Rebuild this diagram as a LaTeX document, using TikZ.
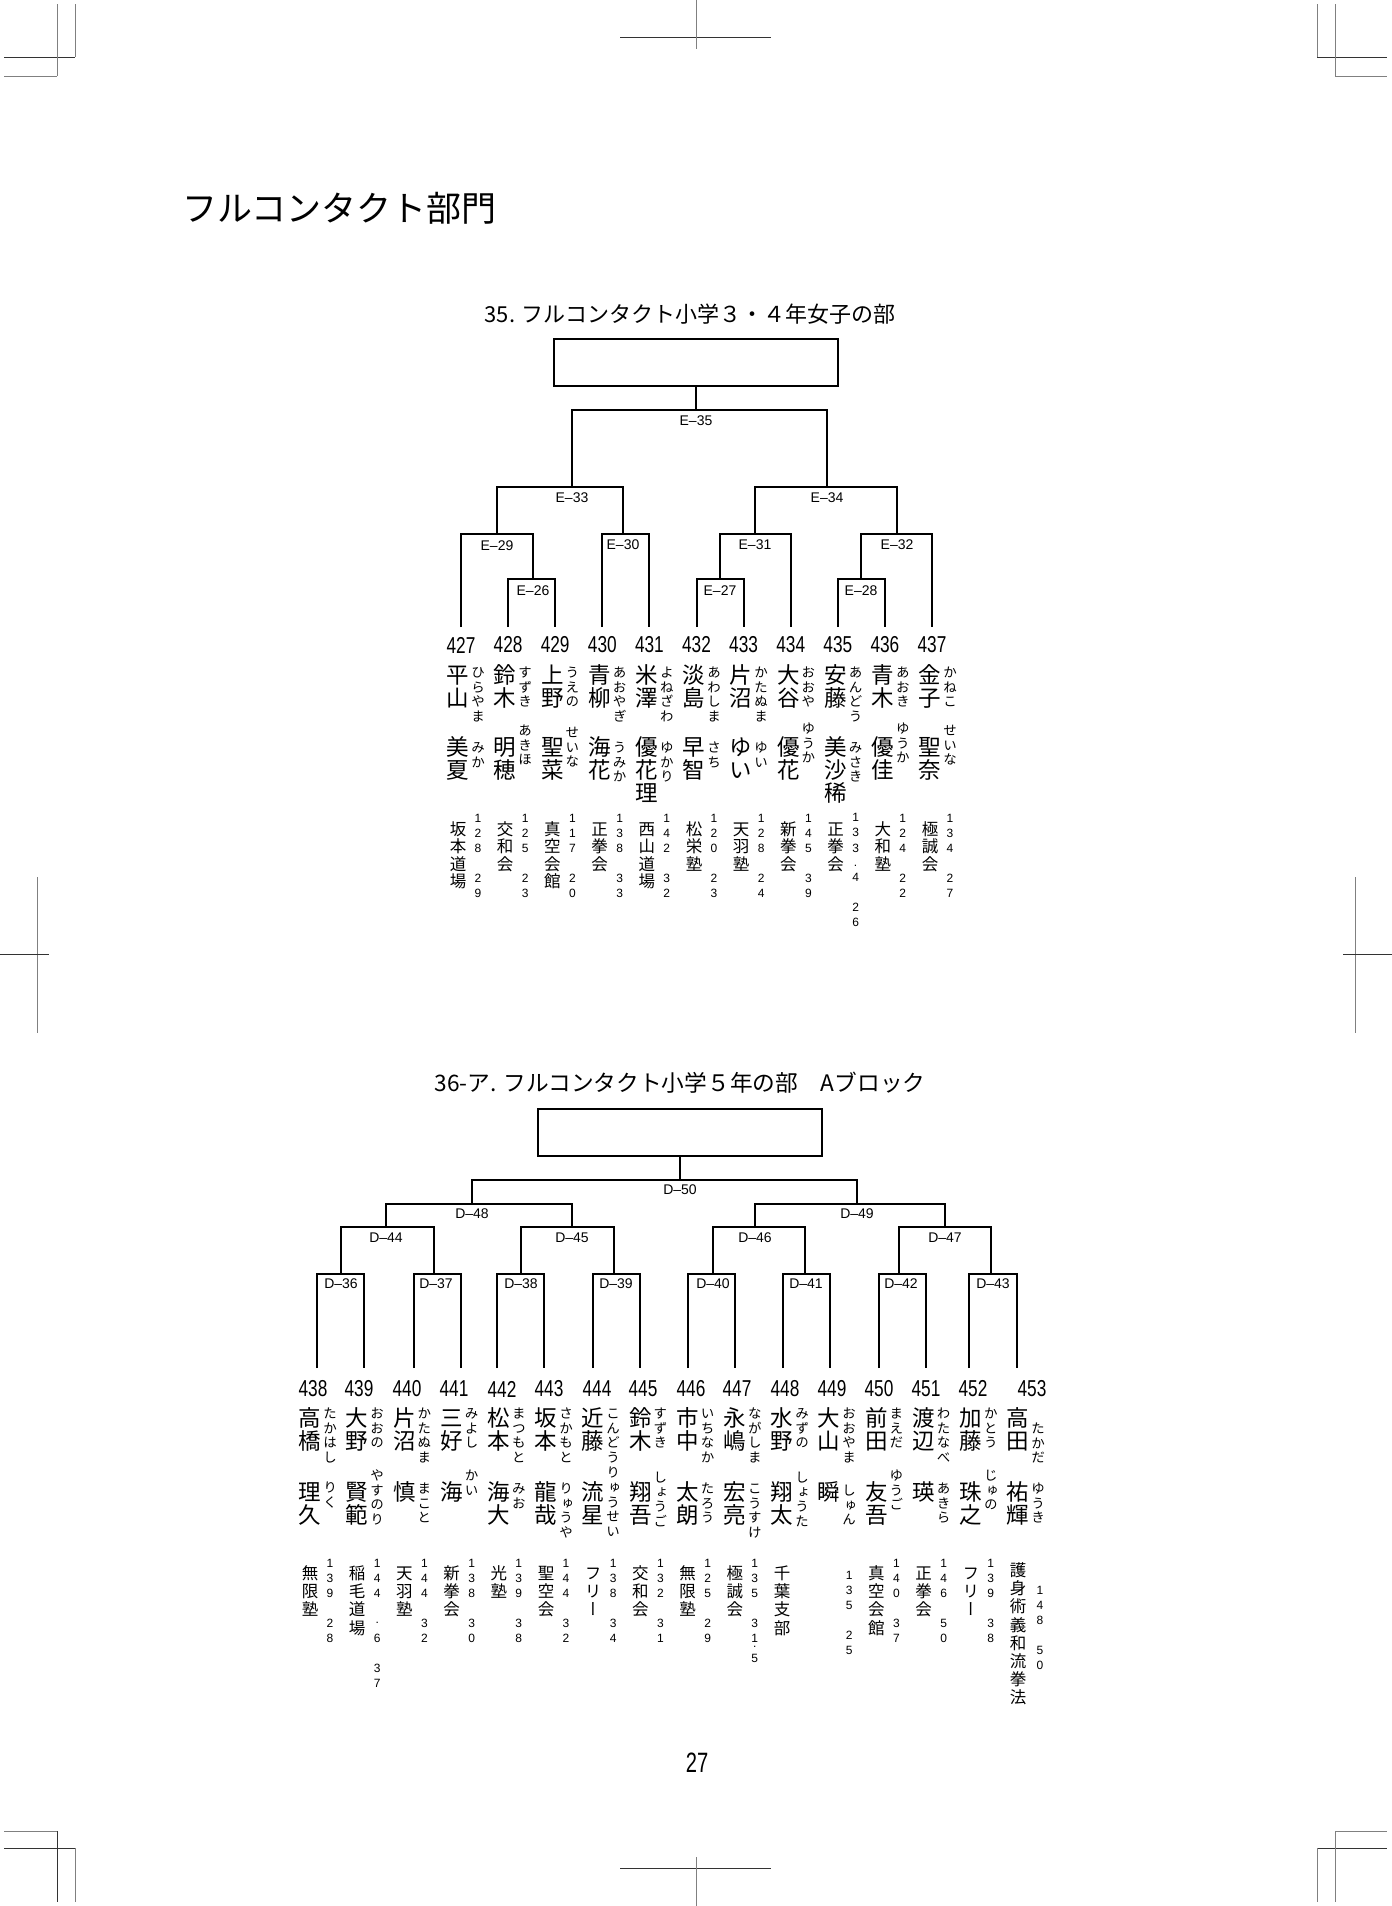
\documentclass[tikz,border=0pt]{standalone}
\usepackage{fontspec}
\usepackage{graphicx}
\setmainfont{Noto Sans CJK JP}
\newfontfamily\jp{Noto Sans CJK JP}
\newfontfamily\vjp[RawFeature={+vert}]{Noto Sans CJK JP}
\newfontfamily\lat{Liberation Sans}
\makeatletter
\def\vs@loop#1{\ifx#1\relax\else\hbox to 1em{\hss\vrule height .88em depth .12em width 0pt\relax#1\hss}\expandafter\vs@loop\fi}
\newcommand\vstk[2]{\vbox{\baselineskip=#1\relax\lineskiplimit=-100pt\relax\lineskip=0pt\relax\vs@loop#2\relax}}
\makeatother
\tikzset{
  br/.style={line width=2pt},
  bx/.style={draw,line width=2pt,minimum width=284pt,minimum height=47pt,inner sep=0},
  kj/.style={inner sep=0,anchor=north,font=\vjp\fontsize{22.5}{23}\selectfont},
  fu/.style={inner sep=0,anchor=north,font=\vjp\fontsize{13.5}{14}\selectfont},
  af/.style={inner sep=0,anchor=north,font=\vjp\fontsize{16.5}{17}\selectfont},
  dg/.style={inner sep=0,font=\lat\fontsize{12}{12}\selectfont},
  num/.style={inner sep=0,font=\lat\fontsize{23}{23}\selectfont},
  mlab/.style={inner sep=0,font=\lat\fontsize{14}{14}\selectfont},
  ttl/.style={inner sep=0,font=\jp\fontsize{22}{22}\selectfont},
  cropd/.style={line width=1pt,black!80},
  cropg/.style={line width=1pt,black!50},
}
\newcommand\pers[8]{%
  \node[kj] (s#1) at (#2,{\ySur-11.25}) {\vstk{23pt}{#3}};
  \node[fu] (fs#1) at ({#2+20},{\yFs-6.75}) {\vstk{14.8pt}{#4}};
  \node[kj] (g#1) at (#2,{\yGiv-11.25}) {\vstk{23pt}{#5}};
  \node[fu] (fg#1) at ({#2+20},{#7-6.75}) {\vstk{14.8pt}{#6}};
  \node[af] (a#1) at (#2,{\yAff-8.25}) {\vstk{\affsk}{#8}};
}
\newcommand\wtd[8]{\foreach \c/\k [count=\i] in {#4/0,#5/1,#6/2,#7/4,#8/5}{\node[dg] (d#1-\i) at (#2,{#3+15*\k}) {\c};}}
\newcommand\digs[3]{\foreach \c/\yy [count=\i] in {#3}{\node[dg] (d#1-\i) at (#2,\yy) {\c};}}
\begin{document}
\begin{tikzpicture}[x=1pt,y=-1pt]
\fill[white] (0,0) rectangle (1392,1906);
\useasboundingbox (0,0) rectangle (1392,1906);
% crop marks
\draw[cropd] (4,57) -- (75,57); \draw[cropg] (4,76) -- (57,76);
\draw[cropg] (57,4) -- (57,76); \draw[cropg] (75,4) -- (75,57);
\draw[cropd] (620,37) -- (771,37); \draw[cropg] (696,0) -- (696,49);
\draw[cropd] (1317,57) -- (1387,57); \draw[cropg] (1335,76) -- (1387,76);
\draw[cropg] (1317,4) -- (1317,57); \draw[cropg] (1335,4) -- (1335,76);
\draw[cropg] (37,877) -- (37,1033); \draw[cropd] (0,954) -- (49,954);
\draw[cropg] (1355,877) -- (1355,1033); \draw[cropd] (1343,954) -- (1392,954);
\draw[cropg] (4,1831) -- (57,1831); \draw[cropd] (4,1848) -- (75,1848);
\draw[cropd] (57,1831) -- (57,1902); \draw[cropg] (75,1848) -- (75,1902);
\draw[cropd] (620,1868) -- (771,1868); \draw[cropg] (696,1857) -- (696,1906);
\draw[cropg] (1335,1831) -- (1387,1831); \draw[cropd] (1317,1848) -- (1387,1848);
\draw[cropg] (1317,1848) -- (1317,1902); \draw[cropg] (1335,1831) -- (1335,1902);
% headings
\node[inner sep=0,anchor=west,font=\jp\fontsize{35}{35}\selectfont] (head) at (182,208) {フルコンタクト部門};
\node[ttl] (t35) at (690,314) {35. フルコンタクト小学３・４年女子の部};
\node[ttl,font=\jp\fontsize{22.7}{23}\selectfont] (t36) at (680,1083) {36-ア. フルコンタクト小学５年の部　Aブロック};
\node[inner sep=0,font=\lat\fontsize{28}{28}\selectfont] (pg) at (697,1763) {\scalebox{.72}[1]{27}};
% ===== bracket 35 =====
\node[bx] (bx1) at (696,362.5) {};
\coordinate (E35) at (696,410);
\coordinate (E33) at (572,487); \coordinate (E34) at (827,487);
\coordinate (E29) at (497,534); \coordinate (E30) at (623,534);
\coordinate (E31) at (755,534); \coordinate (E32) at (897,534);
\coordinate (E26) at (533,579); \coordinate (E27) at (720,579); \coordinate (E28) at (861,579);
\foreach \n/\xx in {427/461,428/508.1,429/555.2,430/602.3,431/649.4,432/696.5,433/743.6,434/790.7,435/837.8,436/884.9,437/932}{
  \coordinate (l\n) at (\xx,627);
  \node[num] (n\n) at (\xx,645) {\scalebox{.75}[1]{\n}};
}
\draw[br] (bx1.south) -- (E35);
\draw[br] (E33) |- (E35) -| (E34);
\draw[br] (E29) |- (E33) -| (E30);
\draw[br] (E31) |- (E34) -| (E32);
\draw[br] (l427) |- (E29) -| (E26);
\draw[br] (l428) |- (E26) -| (l429);
\draw[br] (l430) |- (E30) -| (l431);
\draw[br] (E27) |- (E31) -| (l434);
\draw[br] (l432) |- (E27) -| (l433);
\draw[br] (E28) |- (E32) -| (l437);
\draw[br] (l435) |- (E28) -| (l436);
\node[mlab] (tE35) at (696,421) {E–35};
\node[mlab] (tE33) at (572,498) {E–33};
\node[mlab] (tE34) at (827,498) {E–34};
\node[mlab] (tE29) at (497,546) {E–29};
\node[mlab] (tE30) at (623,545) {E–30};
\node[mlab] (tE31) at (755,545) {E–31};
\node[mlab] (tE32) at (897,545) {E–32};
\node[mlab] (tE26) at (533,591) {E–26};
\node[mlab] (tE27) at (720,591) {E–27};
\node[mlab] (tE28) at (861,591) {E–28};
\def\ySur{675}\def\yFs{672}\def\yGiv{747}\def\yAff{829}\def\affsk{17.3pt}
\pers{427}{458}{平山}{ひらやま}{美夏}{みか}{747}{坂本道場}
\pers{428}{505.2}{鈴木}{すずき}{明穂}{あきほ}{730}{交和会}
\pers{429}{552.4}{上野}{うえの}{聖菜}{せいな}{732}{真空会館}
\pers{430}{599.6}{青柳}{あおやぎ}{海花}{うみか}{747}{正拳会}
\pers{431}{646.8}{米澤}{よねざわ}{優花理}{ゆかり}{747}{西山道場}
\pers{432}{694}{淡島}{あわしま}{早智}{さち}{747}{松栄塾}
\pers{433}{741.2}{片沼}{かたぬま}{ゆい}{ゆい}{747}{天羽塾}
\pers{434}{788.4}{大谷}{おおや}{優花}{ゆうか}{728}{新拳会}
\pers{435}{835.6}{安藤}{あんどう}{美沙稀}{みさき}{747}{正拳会}
\pers{436}{882.8}{青木}{あおき}{優佳}{ゆうか}{728}{大和塾}
\pers{437}{930}{金子}{かねこ}{聖奈}{せいな}{730}{極誠会}
\wtd{427}{478}{818}{1}{2}{8}{2}{9}
\wtd{428}{525.2}{818}{1}{2}{5}{2}{3}
\wtd{429}{572.4}{818}{1}{1}{7}{2}{0}
\wtd{430}{619.6}{818}{1}{3}{8}{3}{3}
\wtd{431}{666.8}{818}{1}{4}{2}{3}{2}
\wtd{432}{714}{818}{1}{2}{0}{2}{3}
\wtd{433}{761.2}{818}{1}{2}{8}{2}{4}
\wtd{434}{808.4}{818}{1}{4}{5}{3}{9}
\digs{435}{855.6}{1/817,3/832,3/848,./866,4/877,2/907,6/922}
\wtd{436}{902.8}{818}{1}{2}{4}{2}{2}
\wtd{437}{950}{818}{1}{3}{4}{2}{7}
% ===== bracket 36 =====
\node[bx] (bx2) at (680,1132.5) {};
\coordinate (D50) at (680,1180);
\coordinate (D48) at (472,1204); \coordinate (D49) at (857,1204);
\coordinate (D44) at (386,1227); \coordinate (D45) at (572,1227);
\coordinate (D46) at (755,1227); \coordinate (D47) at (945,1227);
\coordinate (D36) at (341,1274); \coordinate (D37) at (434,1274);
\coordinate (D38) at (521,1274); \coordinate (D39) at (614,1274);
\coordinate (D40) at (713,1274); \coordinate (D41) at (805,1274);
\coordinate (D42) at (899,1274); \coordinate (D43) at (991,1274);
\foreach \n/\xx in {438/317,439/364,440/414,441/461,442/497,443/544,444/593,445/640,446/688,447/735,448/783,449/830,450/879,451/926,452/969,453/1017}{
  \coordinate (l\n) at (\xx,1368);
}
\foreach \n/\xx in {438/313,439/359,440/407,441/454,442/502,443/549,444/597,445/643,446/691,447/737,448/785,449/832,450/879,451/926,452/973,453/1032}{
  \node[num] (n\n) at (\xx,1389) {\scalebox{.75}[1]{\n}};
}
\draw[br] (bx2.south) -- (D50);
\draw[br] (D48) |- (D50) -| (D49);
\draw[br] (D44) |- (D48) -| (D45);
\draw[br] (D46) |- (D49) -| (D47);
\draw[br] (D36) |- (D44) -| (D37);
\draw[br] (D38) |- (D45) -| (D39);
\draw[br] (D40) |- (D46) -| (D41);
\draw[br] (D42) |- (D47) -| (D43);
\draw[br] (l438) |- (D36) -| (l439);
\draw[br] (l440) |- (D37) -| (l441);
\draw[br] (l442) |- (D38) -| (l443);
\draw[br] (l444) |- (D39) -| (l445);
\draw[br] (l446) |- (D40) -| (l447);
\draw[br] (l448) |- (D41) -| (l449);
\draw[br] (l450) |- (D42) -| (l451);
\draw[br] (l452) |- (D43) -| (l453);
\node[mlab] (tD50) at (680,1190) {D–50};
\node[mlab] (tD48) at (472,1214) {D–48};
\node[mlab] (tD49) at (857,1214) {D–49};
\node[mlab] (tD44) at (386,1238) {D–44};
\node[mlab] (tD45) at (572,1238) {D–45};
\node[mlab] (tD46) at (755,1238) {D–46};
\node[mlab] (tD47) at (945,1238) {D–47};
\node[mlab] (tD36) at (341,1284) {D–36};
\node[mlab] (tD37) at (436,1284) {D–37};
\node[mlab] (tD38) at (521,1284) {D–38};
\node[mlab] (tD39) at (616,1284) {D–39};
\node[mlab] (tD40) at (713,1284) {D–40};
\node[mlab] (tD41) at (806,1284) {D–41};
\node[mlab] (tD42) at (901,1284) {D–42};
\node[mlab] (tD43) at (993,1284) {D–43};
\def\ySur{1418}\def\yFs{1413}\def\yGiv{1492}\def\yAff{1573}\def\affsk{18.2pt}
\pers{438}{310}{高橋}{たかはし}{理久}{りく}{1487}{無限塾}
\pers{439}{357.2}{大野}{おおの}{賢範}{やすのり}{1475}{稲毛道場}
\pers{440}{404.4}{片沼}{かたぬま}{慎}{まこと}{1488}{天羽塾}
\pers{441}{451.6}{三好}{みよし}{海}{かい}{1475}{新拳会}
\pers{442}{498.8}{松本}{まつもと}{海大}{みお}{1488}{光塾}
\pers{443}{546}{坂本}{さかもと}{龍哉}{りゅうや}{1488}{聖空会}
\pers{444}{593.2}{近藤}{こんどうりゅうせい}{流星}{}{1488}{フリー}
\pers{445}{640.4}{鈴木}{すずき}{翔吾}{しょうご}{1477}{交和会}
\pers{446}{687.6}{市中}{いちなか}{太朗}{たろう}{1488}{無限塾}
\pers{447}{734.8}{永嶋}{ながしま}{宏亮}{こうすけ}{1488}{極誠会}
\pers{448}{782}{水野}{みずの}{翔太}{しょうた}{1477}{千葉支部}
\pers{449}{829.2}{大山}{おおやま}{瞬}{しゅん}{1490}{}
\pers{450}{876.4}{前田}{まえだ}{友吾}{ゆうご}{1475}{真空会館}
\pers{451}{923.6}{渡辺}{わたなべ}{瑛}{あきら}{1488}{正拳会}
\pers{452}{970.8}{加藤}{かとう}{珠之}{じゅの}{1475}{フリー}
\def\yFs{1428}\def\yAff{1570}
\pers{453}{1018}{高田}{たかだ}{祐輝}{ゆうき}{1488}{護身術義和流拳法}
\wtd{438}{330}{1563}{1}{3}{9}{2}{8}
\digs{439}{377.2}{1/1563,4/1578,4/1593,./1623,6/1638,3/1668,7/1683}
\wtd{440}{424.4}{1563}{1}{4}{4}{3}{2}
\wtd{441}{471.6}{1563}{1}{3}{8}{3}{0}
\wtd{442}{518.8}{1563}{1}{3}{9}{3}{8}
\wtd{443}{566}{1563}{1}{4}{4}{3}{2}
\wtd{444}{613.2}{1563}{1}{3}{8}{3}{4}
\wtd{445}{660.4}{1563}{1}{3}{2}{3}{1}
\wtd{446}{707.6}{1563}{1}{2}{5}{2}{9}
\digs{447}{754.8}{1/1563,3/1578,5/1593,3/1623,1/1638,./1647,5/1658}
\wtd{449}{849.2}{1575}{1}{3}{5}{2}{5}
\wtd{450}{896.4}{1563}{1}{4}{0}{3}{7}
\wtd{451}{943.6}{1563}{1}{4}{6}{5}{0}
\wtd{452}{990.8}{1563}{1}{3}{9}{3}{8}
\wtd{453}{1040}{1590}{1}{4}{8}{5}{0}
\end{tikzpicture}
\end{document}
